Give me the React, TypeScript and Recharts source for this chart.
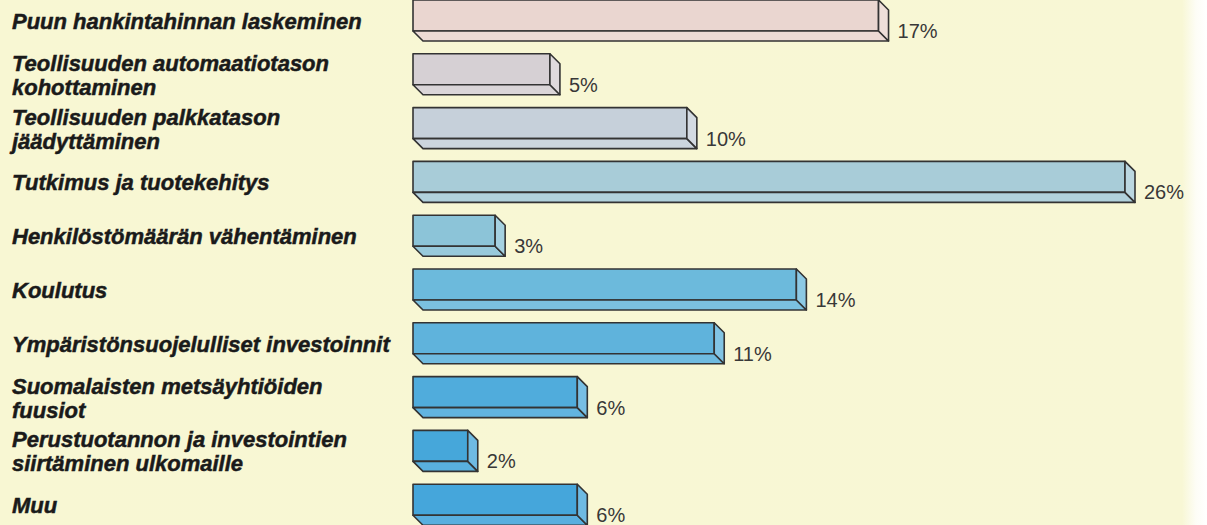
import { Bar, BarChart, LabelList, XAxis, YAxis } from "recharts";

const categories = [
  "Puun hankintahinnan laskeminen",
  "Teollisuuden automaatiotason\nkohottaminen",
  "Teollisuuden palkkatason\njäädyttäminen",
  "Tutkimus ja tuotekehitys",
  "Henkilöstömäärän vähentäminen",
  "Koulutus",
  "Ympäristönsuojelulliset investoinnit",
  "Suomalaisten metsäyhtiöiden\nfuusiot",
  "Perustuotannon ja investointien\nsiirtäminen ulkomaille",
  "Muu",
];

const shares = [17, 5, 10, 26, 3, 14, 11, 6, 2, 6];

const barColors = [
  "#ead6d0",
  "#d6d0d4",
  "#c6d0da",
  "#a8ccd8",
  "#8cc4d8",
  "#6cbadc",
  "#5fb3dc",
  "#50acdc",
  "#46a7da",
  "#45a6db",
];

const data = categories.map((name, i) => ({
  name,
  value: shares[i],
  color: barColors[i],
}));

const DEPTH = 10;
const STROKE = "#333";

function lighten(hex: string, t: number) {
  const n = parseInt(hex.slice(1), 16);
  const mix = (c: number) => Math.round(c + (255 - c) * t);
  const r = mix((n >> 16) & 255);
  const g = mix((n >> 8) & 255);
  const b = mix(n & 255);
  return `rgb(${r},${g},${b})`;
}

function Bar3D(props: any) {
  const { x, y, width, height, payload } = props;
  const fh = height - DEPTH;
  const color = payload.color;
  const x2 = x + width;
  const y2 = y + fh;
  return (
    <g stroke={STROKE} strokeWidth={1.6} strokeLinejoin="round">
      <rect x={x} y={y} width={width} height={fh} fill={color} />
      <polygon
        points={`${x},${y2} ${x2},${y2} ${x2 + DEPTH},${y2 + DEPTH} ${x + DEPTH},${y2 + DEPTH}`}
        fill={lighten(color, 0.1)}
      />
      <polygon
        points={`${x2},${y} ${x2 + DEPTH},${y + DEPTH} ${x2 + DEPTH},${y2 + DEPTH} ${x2},${y2}`}
        fill={lighten(color, 0.22)}
      />
    </g>
  );
}

function CategoryTick(props: any) {
  const { y, payload } = props;
  const lines = String(payload.value).split("\n");
  const lh = 24;
  const start = y - ((lines.length - 1) * lh) / 2;
  return (
    <text
      x={12}
      y={start}
      fill="#1a1a1a"
      stroke="#1a1a1a"
      strokeWidth={0.5}
      fontFamily="Liberation Sans, Arial, sans-serif"
      fontWeight={700}
      fontStyle="italic"
      fontSize={22}
      dominantBaseline="central"
    >
      {lines.map((line, i) => (
        <tspan key={i} x={12} y={start + i * lh}>
          {line}
        </tspan>
      ))}
    </text>
  );
}

function ValueLabel(props: any) {
  const { x, y, width, height, value } = props;
  return (
    <text
      x={x + width + DEPTH + 9}
      y={y + height - DEPTH}
      fill="#383838"
      fontFamily="Liberation Sans, Arial, sans-serif"
      fontSize={20}
      dominantBaseline="central"
    >
      {value}%
    </text>
  );
}

export default function App() {
  return (
    <div
      style={{
        position: "absolute",
        left: 0,
        top: 0,
        width: 1207,
        height: 525,
        overflow: "hidden",
        background:
          "linear-gradient(to right, #f8f7d3 0px, #f8f7d5 1182px, #fdfdf6 1196px, #ffffff 1207px)",
      }}
    >
      <div style={{ position: "relative", top: -6 }}>
        <BarChart
          width={1207}
          height={538}
          data={data}
          layout="vertical"
          margin={{ top: 0, right: 82, bottom: 0, left: 0 }}
          barSize={41}
        >
          <XAxis type="number" domain={[0, 26]} hide />
          <YAxis
            type="category"
            dataKey="name"
            width={413}
            axisLine={false}
            tickLine={false}
            interval={0}
            tick={<CategoryTick />}
          />
          <Bar
            dataKey="value"
            shape={<Bar3D />}
            isAnimationActive={false}
          >
            <LabelList dataKey="value" content={<ValueLabel />} />
          </Bar>
        </BarChart>
      </div>
    </div>
  );
}
